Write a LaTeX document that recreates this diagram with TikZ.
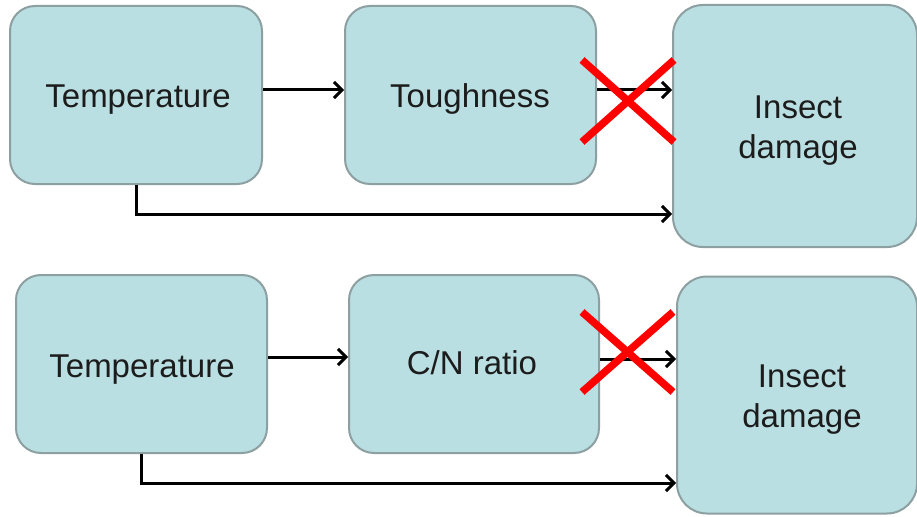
\documentclass[tikz,border=0pt]{standalone}
\usepackage{fontspec}
\setmainfont{Liberation Sans}
\usetikzlibrary{arrows.meta}
\definecolor{boxfill}{HTML}{BADFE2}
\definecolor{boxline}{HTML}{8C9FA1}
\definecolor{txt}{HTML}{1C1C1C}
\definecolor{crossred}{HTML}{FF0000}
\tikzset{
  factor/.style={draw=boxline, line width=2pt, fill=boxfill, rounded corners=25pt, inner sep=0pt},
  caption/.style={text=txt, font=\fontsize{33}{40}\selectfont, align=center, inner sep=0pt,
    anchor=base},
  arr/.style={draw=black, line width=3pt,
    -{Straight Barb[length=8pt,width=16pt,line width=3pt]}},
  crossout/.style={draw=crossred, line width=7.5pt}
}
\begin{document}
\begin{tikzpicture}[x=1pt,y=-1pt]
\useasboundingbox[fill=white] (0,0) rectangle (917,516);

% upper chain: temperature -> toughness -> insect damage
\node[factor, minimum width=252pt, minimum height=178pt] (t1) at (136,95) {};
\node[factor, minimum width=251pt, minimum height=178pt] (tough) at (470.5,95) {};
\node[factor, minimum width=244pt, minimum height=242pt, rounded corners=30pt] (ins1) at (795,126) {};
\node[caption] (t1txt) at (138,108) {Temperature};
\node[caption] (toughtxt) at (470,108) {Toughness};
\node[caption] (ins1txt) at (798,158) {Insect\\damage};

\draw[arr] ([yshift=5pt]t1.east) -- ([yshift=5pt]tough.west);
\draw[arr] ([yshift=5pt]tough.east) -- ([yshift=5pt]tough.east -| ins1.west);
\draw[arr] (t1.south) |- (ins1.west |- 0,214);

\coordinate (x1a) at (582,60);
\coordinate (x1b) at (674,142);
\coordinate (x1c) at (582,142);
\coordinate (x1d) at (674,60);
\draw[crossout] (x1a) -- (x1b);
\draw[crossout] (x1c) -- (x1d);

% lower chain: temperature -> C/N ratio -> insect damage
\node[factor, minimum width=251pt, minimum height=178pt] (t2) at (141.5,364) {};
\node[factor, minimum width=250pt, minimum height=178pt] (cn) at (474,364) {};
\node[factor, minimum width=240pt, minimum height=237pt, rounded corners=30pt] (ins2) at (797,395) {};
\node[caption] (t2txt) at (142,377) {Temperature};
\node[caption] (cntxt) at (472,374) {C/N ratio};
\node[caption] (ins2txt) at (802,427) {Insect\\damage};

\draw[arr] ([yshift=7pt]t2.east) -- ([yshift=7pt]cn.west);
\draw[arr] ([yshift=5pt]cn.east) -- ([yshift=5pt]cn.east -| ins2.west);
\draw[arr] (t2.south) |- (ins2.west |- 0,483);

\coordinate (x2a) at (582,312);
\coordinate (x2b) at (673,392);
\coordinate (x2c) at (582,392);
\coordinate (x2d) at (673,312);
\draw[crossout] (x2a) -- (x2b);
\draw[crossout] (x2c) -- (x2d);
\end{tikzpicture}
\end{document}
